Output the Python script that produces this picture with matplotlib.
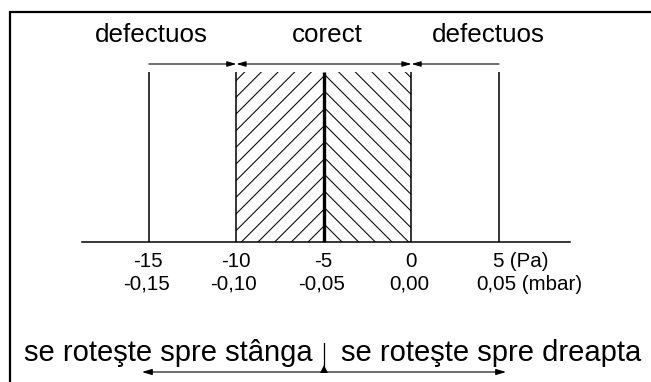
import matplotlib
matplotlib.use('Agg')
import matplotlib.pyplot as plt

# ---- data ----
pa_values = [-15, -10, -5, 0, 5]
pa_labels = ['-15', '-10', '-5', '0', '5']
pa_unit = ' (Pa)'
mbar_labels = ['-0,15', '-0,10', '-0,05', '0,00', '0,05']
mbar_unit = ' (mbar)'
zone_labels = ['defectuos', 'corect', 'defectuos']
correct_low, correct_high = -10, 0
center_value = -5
rotation_labels = ['se roteşte spre stânga', 'se roteşte spre dreapta']

# ---- layout ----
W, H = 651, 382
PX0, PXU = 411.5, 17.51          # pixel of 0 Pa, pixels per Pa
FONT = 'Liberation Sans'
plt.rcParams['hatch.linewidth'] = 0.75

fig = plt.figure(figsize=(W / 100, H / 100), dpi=100)
ax = fig.add_axes([0, 0, 1, 1])
ax.set_xlim(-PX0 / PXU, (W - PX0) / PXU)
ax.set_ylim(H, 0)
ax.axis('off')

def px(v):
    return (v - PX0) / PXU

# frame (left and top edges visible)
ax.plot([10 / W, 10 / W, 1.0], [0.0, 1 - 12 / H, 1 - 12 / H], transform=ax.transAxes,
        color='black', lw=1.6, clip_on=False, solid_joinstyle='miter')

y_top, y_axis = 72, 242

# hatched "correct" area
ax.fill_between([correct_low, center_value], y_top, y_axis, facecolor='white',
                edgecolor='black', hatch='//', linewidth=0)
ax.fill_between([center_value, correct_high], y_top, y_axis, facecolor='white',
                edgecolor='black', hatch='\\\\', linewidth=0)

# vertical lines
for v in pa_values:
    ax.plot([v, v], [y_top, y_axis], color='black',
            lw=2.4 if v == center_value else 1.1, solid_capstyle='butt')

# horizontal axis line
ax.plot([px(82), px(570)], [y_axis, y_axis], color='black', lw=1.1)

# dimension line with arrows
y_dim = 64
ap = dict(arrowstyle='-|>,head_length=0.55,head_width=0.16', color='black',
          lw=0.8, shrinkA=0, shrinkB=0, mutation_scale=10)
ap2 = dict(arrowstyle='<|-|>,head_length=0.55,head_width=0.16', color='black',
           lw=0.8, shrinkA=0, shrinkB=0, mutation_scale=10)
ax.annotate('', xy=(correct_low, y_dim), xytext=(pa_values[0], y_dim), arrowprops=ap)
ax.annotate('', xy=(correct_high, y_dim), xytext=(correct_low, y_dim), arrowprops=ap2)
ax.annotate('', xy=(correct_high, y_dim), xytext=(pa_values[-1], y_dim), arrowprops=ap)

# zone labels
zone_x = [px(151), px(327), px(488)]
for x, lab in zip(zone_x, zone_labels):
    ax.text(x, 42, lab, ha='center', va='baseline', fontsize=18.7, family=FONT)

# tick labels
for i, v in enumerate(pa_values):
    t1 = ax.text(v - 0.05, 267, pa_labels[i], ha='center', va='baseline', fontsize=14.8, family=FONT)
    t2 = ax.text(v - 0.15, 290, mbar_labels[i], ha='center', va='baseline', fontsize=14.8, family=FONT)
    if i == len(pa_values) - 1:
        ax.annotate(pa_unit, xy=(1, 0), xycoords=t1, ha='left', va='bottom',
                    fontsize=14.8, family=FONT)
        ax.annotate(mbar_unit, xy=(1, 0), xycoords=t2, ha='left', va='bottom',
                    fontsize=14.8, family=FONT)

# rotation direction
y_arr = 372
ax.annotate('', xy=(px(142), y_arr), xytext=(px(506), y_arr),
            arrowprops=dict(arrowstyle='<|-|>,head_length=0.6,head_width=0.18',
                            color='black', lw=0.8, shrinkA=0, shrinkB=0, mutation_scale=10))
ax.plot([center_value, center_value], [343, 366], color='black', lw=0.9)
ax.plot([center_value], [368.5], marker='^', color='black', markersize=6, markeredgewidth=0)
ax.text(px(313), 361, rotation_labels[0], ha='right', va='baseline', fontsize=21, family=FONT)
ax.text(px(341), 361, rotation_labels[1], ha='left', va='baseline', fontsize=21, family=FONT)

fig.savefig('out.png', dpi=100)
